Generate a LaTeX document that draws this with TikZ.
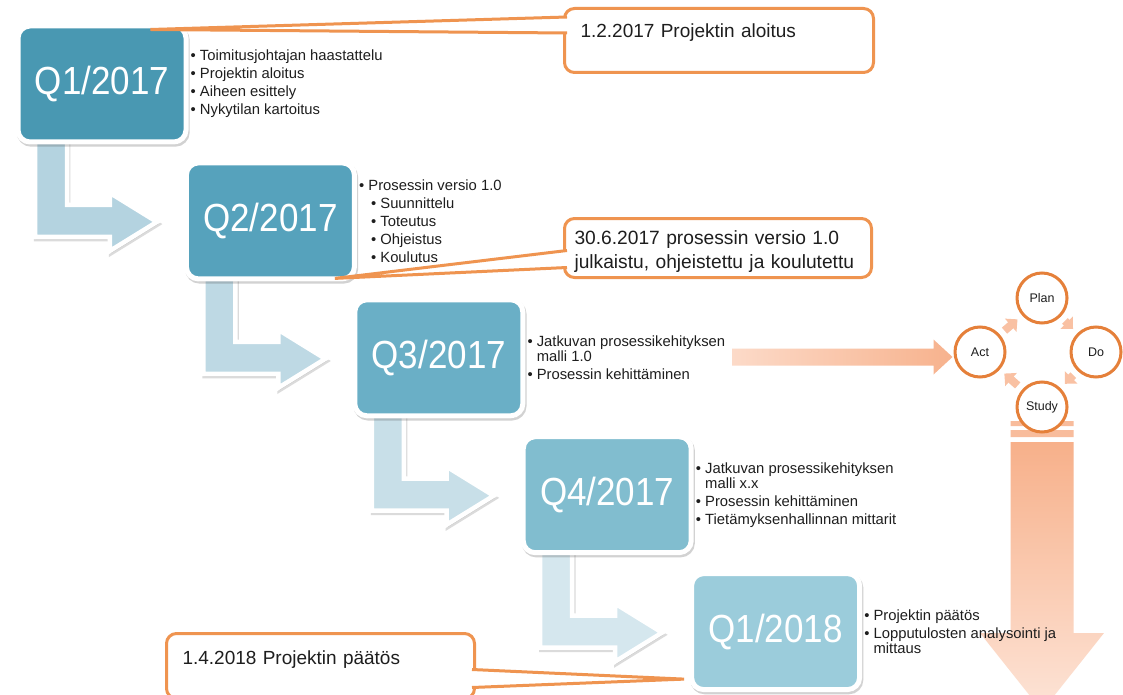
\documentclass[tikz,border=0pt]{standalone}
\usepackage{fontspec}
\setmainfont{Liberation Sans}
\usepackage{graphicx}
\usetikzlibrary{calc,shadows,arrows.meta}
\pgfdeclarelayer{bg}
\pgfdeclarelayer{background}
\pgfsetlayers{bg,background,main}
\definecolor{qa}{RGB}{73,152,178}
\definecolor{qb}{RGB}{86,162,188}
\definecolor{qc}{RGB}{106,175,198}
\definecolor{qd}{RGB}{129,189,207}
\definecolor{qe}{RGB}{155,204,219}
\definecolor{aa}{RGB}{180,211,224}
\definecolor{ab}{RGB}{190,217,228}
\definecolor{ac}{RGB}{200,223,232}
\definecolor{ad}{RGB}{213,231,238}
\definecolor{calloutc}{RGB}{239,148,80}
\definecolor{circc}{RGB}{229,128,58}
\definecolor{smallarr}{RGB}{249,193,163}
\definecolor{orA}{RGB}{247,176,138}
\definecolor{orB}{RGB}{253,228,215}
\definecolor{orHa}{RGB}{252,218,200}
\definecolor{orHb}{RGB}{247,178,141}
\definecolor{barc}{RGB}{248,188,156}
\definecolor{txt}{RGB}{30,30,30}
\newcommand{\bl}{\textbullet\ }
\newcommand{\bentarr}[3]{%
  \path[bentarrow, fill=#3] let \p1=($(#1.south west)+(19.5,-10)$), \p2=($(#2.west)+(-27,1)$) in
   (\x1,\y1) -- (\x1,{\y2-15pt}) -- ({\x2-47pt},{\y2-15pt}) -- ({\x2-47pt},{\y2-29pt}) -- (\x2,\y2)
   -- ({\x2-47pt},{\y2+29pt}) -- ({\x2-47pt},{\y2+17pt}) -- ({\x1+32pt},{\y2+17pt}) -- ({\x1+32pt},\y1) -- cycle;}
\begin{document}
\begin{tikzpicture}[x=1pt,y=-1pt,
 qbox/.style={rounded corners=12pt, draw=white, line width=5pt, minimum width=168pt, minimum height=116pt,
   text=white, inner sep=0pt, font=\fontsize{35}{35}\selectfont,
   drop shadow={shadow xshift=1.2pt, shadow yshift=-2.2pt, opacity=.25, fill=black!70, draw=black!70, line width=5pt}},
 bentarrow/.style={draw=white, line width=4.5pt, line join=miter,
   drop shadow={shadow xshift=1.2pt, shadow yshift=-2.2pt, opacity=.2, fill=black!70, draw=black!70, line width=4.5pt}},
 bul/.style={align=left, inner sep=0pt, anchor=west, text=txt, font=\fontsize{14.8}{15}\selectfont},
 calloutbox/.style={draw=calloutc, line width=3pt, rounded corners=10pt, fill=white, anchor=north west,
   align=left, inner xsep=16pt, inner ysep=0pt, text=txt, font=\fontsize{19}{24}\selectfont},
 wedgeline/.style={draw=calloutc, line width=3pt, fill=white, line join=miter},
 pdca/.style={circle, draw=circc, line width=3pt, fill=white, minimum size=50pt, inner sep=0pt,
   text=txt, font=\fontsize{12.5}{12.5}\selectfont},
 cyc/.style={draw=smallarr, line width=8pt, -{Triangle[width=17pt,length=9pt]}, shorten <=6pt, shorten >=6pt}
]
\useasboundingbox (0,0) rectangle (1123,695);
\begin{pgfonlayer}{bg}
\fill[white] (0,0) rectangle (1123,695);
\end{pgfonlayer}

% quarter boxes
\node[qbox, fill=qa] (q1) at (102,84) {\scalebox{1}[1.12]{Q1/2017}};
\node[qbox, fill=qb] (q2) at (270.4,220.9) {\scalebox{1}[1.12]{Q2/2017}};
\node[qbox, fill=qc] (q3) at (438.8,357.8) {\scalebox{1}[1.12]{Q3/2017}};
\node[qbox, fill=qd] (q4) at (607.2,494.7) {\scalebox{1}[1.12]{Q4/2017}};
\node[qbox, fill=qe] (q5) at (775.6,631.6) {\scalebox{1}[1.12]{Q1/2018}};

% bullet lists
\node[bul] (b1) at ($(q1.east)+(2,0)$) {\bl Toimitusjohtajan haastattelu\\[3pt]\bl Projektin aloitus\\[3pt]\bl Aiheen esittely\\[3pt]\bl Nykytilan kartoitus};
\node[bul] (b2) at ($(q2.east)+(2,0)$) {\bl Prosessin versio 1.0\\[3pt]\hspace*{12pt}\bl Suunnittelu\\[3pt]\hspace*{12pt}\bl Toteutus\\[3pt]\hspace*{12pt}\bl Ohjeistus\\[3pt]\hspace*{12pt}\bl Koulutus};
\node[bul] (b3) at ($(q3.east)+(2,0)$) {\bl Jatkuvan prosessikehityksen\\\phantom{\bl}malli 1.0\\[3pt]\bl Prosessin kehittäminen};
\node[bul] (b4) at ($(q4.east)+(2,0)$) {\bl Jatkuvan prosessikehityksen\\\phantom{\bl}malli x.x\\[3pt]\bl Prosessin kehittäminen\\[3pt]\bl Tietämyksenhallinnan mittarit};
\node[bul] (b5) at ($(q5.east)+(2,0)$) {\bl Projektin päätös\\[3pt]\bl Lopputulosten analysointi ja\\\phantom{\bl}mittaus};

% PDCA
\node[pdca] (plan) at (1042,298) {Plan};
\node[pdca] (act) at (980,352) {Act};
\node[pdca] (do) at (1096,352) {Do};
\node[pdca] (study) at (1042,407) {Study};
\draw[cyc] (act) -- (plan);
\draw[cyc] (plan) -- (do);
\draw[cyc] (do) -- (study);
\draw[cyc] (study) -- (act);

% callouts
\node[calloutbox, text width=277pt, minimum height=64pt, text height=14pt, text depth=20pt] (c1) at (563,7) {1.2.2017 Projektin aloitus};
\node[calloutbox, text width=287pt, inner xsep=10pt, minimum height=59pt, font=\fontsize{19.2}{24}\selectfont] (c2) at (563,217) {\rule{0pt}{21pt}30.6.2017 prosessin versio 1.0\\julkaistu, ohjeistettu ja koulutettu};
\node[calloutbox, text width=276pt, minimum height=65pt, text height=14pt, text depth=17pt] (c3) at (165,632) {1.4.2018 Projektin päätös};

\coordinate (t1) at ($(q1.north east)+(-38,6)$);
\coordinate (t2) at ($(q2.south east)+(-22,-3)$);
\coordinate (t3) at ($(q5.south west)+(-5,-13)$);
\filldraw[wedgeline] ($(c1.north west)+(4,10)$) -- (t1) -- ($(c1.north west)+(4,26)$);
\filldraw[wedgeline] ($(c2.north west)+(4,33.5)$) -- (t2) -- ($(c2.north west)+(4,50.5)$);
\filldraw[wedgeline] ($(c3.north east)+(-4,37.5)$) -- (t3) -- ($(c3.north east)+(-4,55.5)$);

\begin{pgfonlayer}{background}
\bentarr{q1}{q2}{aa}
\bentarr{q2}{q3}{ab}
\bentarr{q3}{q4}{ac}
\bentarr{q4}{q5}{ad}
\coordinate (hs) at (732,357);
\shade[left color=orHa, right color=orHb] let \p1=(hs), \p2=($(act.west)+(-1,5)$) in
  (\x1,{\y2+8.5pt}) -- ({\x2-19pt},{\y2+8.5pt}) -- ({\x2-19pt},{\y2+17.5pt}) -- (\x2,\y2)
  -- ({\x2-19pt},{\y2-17.5pt}) -- ({\x2-19pt},{\y2-8.5pt}) -- (\x1,{\y2-8.5pt}) -- cycle;
\fill[barc] let \p1=(study.center) in
  ({\x1-31.5pt},{\y1-14pt}) rectangle ({\x1+31.5pt},{\y1-19pt})
  ({\x1-31.5pt},{\y1-23pt}) rectangle ({\x1+31.5pt},{\y1-30pt});
\shade[top color=orA, bottom color=orB] let \p1=(study.center) in
  ({\x1-31.5pt},{\y1-35pt}) -- ({\x1-31.5pt},{\y1-226pt}) -- ({\x1-62pt},{\y1-226pt}) -- (\x1,{\y1-304pt})
  -- ({\x1+62pt},{\y1-226pt}) -- ({\x1+31.5pt},{\y1-226pt}) -- ({\x1+31.5pt},{\y1-35pt}) -- cycle;
\end{pgfonlayer}
\end{tikzpicture}
\end{document}
